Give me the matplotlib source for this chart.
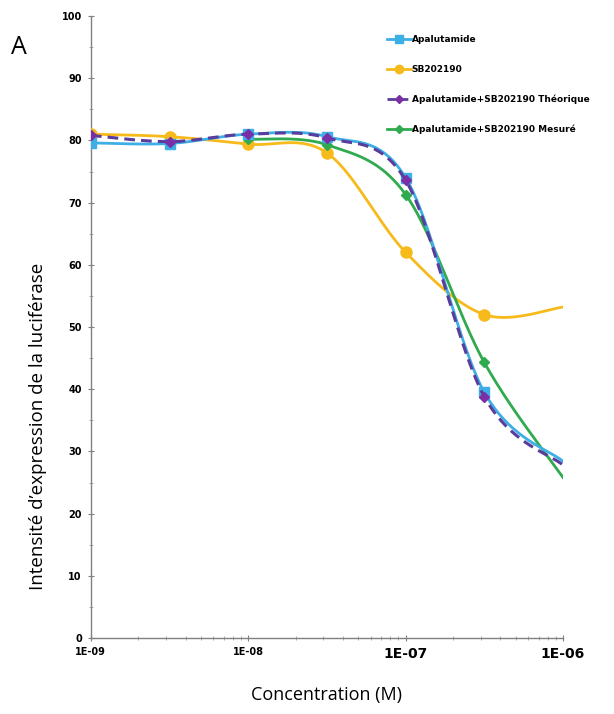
import numpy as np
import matplotlib
matplotlib.use("Agg")
import matplotlib.pyplot as plt
from matplotlib.lines import Line2D

conc = [1e-9, 3.16e-9, 1e-8, 3.16e-8, 1e-7, 3.16e-7, 1e-6]
apalutamide = [79.6, 79.5, 81.0, 80.6, 74.0, 39.5, 28.4]
sb202190 = [81.0, 80.6, 79.4, 78.0, 62.0, 52.0, 53.2]
theorique = [80.8, 79.8, 81.0, 80.4, 73.6, 38.8, 27.8]
conc_mes = [1e-8, 3.16e-8, 1e-7, 3.16e-7, 1e-6]
mesure = [80.2, 79.3, 71.3, 44.3, 25.8]

labels = ["Apalutamide", "SB202190", "Apalutamide+SB202190 Théorique", "Apalutamide+SB202190 Mesuré"]
yticks = list(range(0, 101, 10))
xticks = [1e-9, 1e-8, 1e-7, 1e-6]
xticklabels = ["1E-09", "1E-08", "1E-07", "1E-06"]


def smooth(xs, ys, n=40):
    u = np.log10(np.asarray(xs, float))
    v = np.asarray(ys, float)
    P = np.column_stack([u, v])
    P = np.vstack([P[0], P, P[-1]])
    out = []
    for i in range(1, len(P) - 2):
        p0, p1, p2, p3 = P[i - 1], P[i], P[i + 1], P[i + 2]
        b1 = p1 + (p2 - p0) / 6.0
        b2 = p2 - (p3 - p1) / 6.0
        t = np.linspace(0, 1, n)[:, None]
        seg = ((1 - t) ** 3) * p1 + 3 * ((1 - t) ** 2) * t * b1 + 3 * (1 - t) * t ** 2 * b2 + t ** 3 * p2
        out.append(seg if i == 1 else seg[1:])
    out = np.vstack(out)
    return 10 ** out[:, 0], out[:, 1]


fig = plt.figure(figsize=(6.14, 7.14), dpi=100)
ax = fig.add_axes([0.148, 0.1064, 0.769, 0.8712])

c_apa = "#3DAEE6"
c_sb = "#F6BA1B"
c_th = "#5A3C9C"
c_th_m = "#7B2FA6"
c_mes = "#2FAA4E"

sx, sy = smooth(conc, sb202190)
ax.plot(sx, sy, color=c_sb, lw=2.0, zorder=2)
ax.plot(conc[:-1], sb202190[:-1], ls="none", marker="o", ms=8, color=c_sb, zorder=3)

sx, sy = smooth(conc_mes, mesure)
ax.plot(sx, sy, color=c_mes, lw=2.0, zorder=2)
ax.plot(conc_mes[:-1], mesure[:-1], ls="none", marker="D", ms=5, color=c_mes, zorder=3)

sx, sy = smooth(conc, apalutamide)
ax.plot(sx, sy, color=c_apa, lw=2.0, zorder=4)
ax.plot(conc[:-1], apalutamide[:-1], ls="none", marker="s", ms=7, color=c_apa, zorder=4)

sx, sy = smooth(conc, theorique)
ax.plot(sx, sy, color=c_th, lw=2.2, ls=(0, (3.5, 2)), zorder=5)
ax.plot(conc[:-1], theorique[:-1], ls="none", marker="D", ms=5, color=c_th_m, zorder=5)

ax.set_xscale("log")
ax.set_xlim(1e-9, 1e-6)
ax.set_ylim(0, 100)
ax.set_yticks(yticks)
ax.set_yticklabels([str(t) for t in yticks], fontsize=7, fontweight="bold")
ax.set_yticks(np.arange(5, 100, 10), minor=True)
ax.set_xticks(xticks)
ax.set_xticklabels(xticklabels, fontweight="bold")
for lab, fs in zip(ax.get_xticklabels(), [7, 7, 10, 10]):
    lab.set_fontsize(fs)
ax.xaxis.set_minor_locator(matplotlib.ticker.LogLocator(base=10, subs=np.arange(2, 10)))
ax.xaxis.set_minor_formatter(matplotlib.ticker.NullFormatter())

for s in ["top", "right"]:
    ax.spines[s].set_visible(False)
for s in ["left", "bottom"]:
    ax.spines[s].set_color("#808080")
    ax.spines[s].set_linewidth(1.0)
ax.tick_params(axis="both", which="major", length=5, color="#808080", direction="inout", pad=4)
ax.tick_params(axis="both", which="minor", length=3, color="#A0A0A0", direction="inout")

ax.set_ylabel("Intensité d’expression de la luciférase", fontsize=13.5, family="Open Sans")
ax.yaxis.set_label_coords(-0.092, 0.341)
ax.set_xlabel("Concentration (M)", fontsize=13, family="Open Sans")
ax.xaxis.set_label_coords(0.498, -0.077)

fig.text(0.018, 0.925, "A", fontsize=18, family="Open Sans")

handles = [
    Line2D([], [], color=c_apa, lw=2, marker="s", ms=6),
    Line2D([], [], color=c_sb, lw=2, marker="o", ms=6),
    Line2D([], [], color=c_th, lw=2, ls=(0, (3, 1.5)), marker="D", ms=4, mfc=c_th_m, mec=c_th_m),
    Line2D([], [], color=c_mes, lw=2, marker="D", ms=4),
]
leg = ax.legend(handles, labels, loc="upper left", bbox_to_anchor=(0.62, 0.975), frameon=False,
                prop={"size": 6.5, "weight": "bold"}, labelspacing=2.3, handlelength=2.6,
                handletextpad=0.1, borderaxespad=0)

fig.savefig("out.png", dpi=100)
